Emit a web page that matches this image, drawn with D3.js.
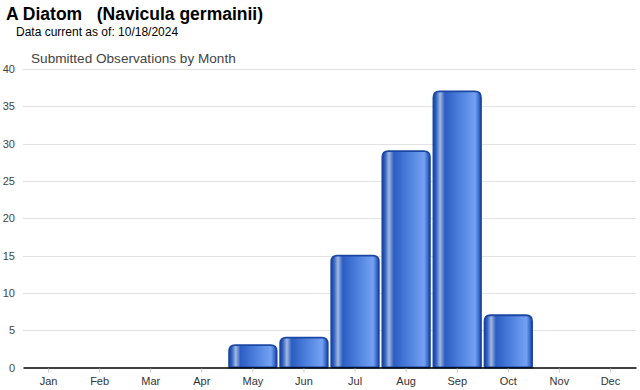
<!DOCTYPE html>
<html>
<head>
<meta charset="utf-8">
<script src="https://cdn.jsdelivr.net/npm/d3@7"></script>
<style>
  body { margin: 0; background: #fff; }
  svg { display: block; font-family: Arial, "Liberation Sans", sans-serif; }
</style>
</head>
<body>
<div id="chart"></div>
<script>
const months = ['Jan', 'Feb', 'Mar', 'Apr', 'May', 'Jun', 'Jul', 'Aug', 'Sep', 'Oct', 'Nov', 'Dec'];
const observations = [0, 0, 0, 0, 3, 4, 15, 29, 37, 7, 0, 0];
const yTicks = [0, 5, 10, 15, 20, 25, 30, 35, 40];

const width = 640, height = 390;
const margin = { top: 69, right: 4, bottom: 22, left: 23 };

const svg = d3.select('#chart')
  .append('svg')
  .attr('width', width)
  .attr('height', height);

// bar gradient
const defs = svg.append('defs');
const grad = defs.append('linearGradient')
  .attr('id', 'barGrad')
  .attr('x1', '0%').attr('x2', '100%')
  .attr('y1', '0%').attr('y2', '0%');
[
  [0, '#1a46a2'],
  [0.06, '#3464c4'],
  [0.14, '#a4b9df'],
  [0.24, '#2b5dc3'],
  [0.55, '#4d80dd'],
  [0.88, '#74a1f2'],
  [0.96, '#3767ca'],
  [1, '#1a46a2']
].forEach(s => grad.append('stop').attr('offset', s[0]).attr('stop-color', s[1]));

// titles
svg.append('text')
  .attr('x', 6).attr('y', 20)
  .attr('font-size', 17.5).attr('font-weight', 'bold')
  .attr('fill', '#000')
  .attr('xml:space', 'preserve')
  .text('A Diatom   (Navicula germainii)');

svg.append('text')
  .attr('x', 16).attr('y', 36)
  .attr('font-size', 12)
  .attr('fill', '#000')
  .text('Data current as of: 10/18/2024');

svg.append('text')
  .attr('x', 31).attr('y', 63)
  .attr('font-size', 13.6)
  .attr('fill', '#444')
  .text('Submitted Observations by Month');

const x = d3.scaleBand()
  .domain(months)
  .range([margin.left, width - margin.right])
  .paddingInner(0.04)
  .paddingOuter(0.02);

const y = d3.scaleLinear()
  .domain([0, 40])
  .range([height - margin.bottom - 0.5, margin.top]);

// grid lines
svg.append('g')
  .selectAll('line')
  .data(yTicks.slice(1))
  .enter()
  .append('line')
  .attr('x1', margin.left)
  .attr('x2', width - margin.right)
  .attr('y1', d => Math.round(y(d)) + 0.5)
  .attr('y2', d => Math.round(y(d)) + 0.5)
  .attr('stroke', '#e3e3e3');

// y labels
svg.append('g')
  .selectAll('text')
  .data(yTicks)
  .enter()
  .append('text')
  .attr('x', 15)
  .attr('y', d => y(d) + 4)
  .attr('text-anchor', 'end')
  .attr('font-size', 11)
  .attr('fill', '#444')
  .text(d => d);

// bars
svg.append('g')
  .selectAll('path')
  .data(observations.map((v, i) => ({ month: months[i], value: v })).filter(d => d.value > 0))
  .enter()
  .append('path')
  .attr('d', d => {
    const x0 = x(d.month) + 0.75, w = x.bandwidth() - 1.5;
    const y0 = y(d.value), y1 = y(0);
    const r = 6;
    return `M${x0},${y1} L${x0},${y0 + r} Q${x0},${y0} ${x0 + r},${y0} ` +
      `L${x0 + w - r},${y0} Q${x0 + w},${y0} ${x0 + w},${y0 + r} L${x0 + w},${y1} Z`;
  })
  .attr('fill', 'url(#barGrad)')
  .attr('stroke', '#1a47a3')
  .attr('stroke-width', 1.8);

// x axis
const xAxis = svg.append('g')
  .attr('transform', `translate(0, ${y(0)})`)
  .call(d3.axisBottom(x).tickSize(4).tickPadding(6).tickSizeOuter(0));
xAxis.select('.domain').attr('stroke', '#000').attr('stroke-width', 1.5);
xAxis.selectAll('.tick line').attr('stroke', '#ccc').attr('transform', 'translate(0,1)');
xAxis.selectAll('.tick text')
  .attr('font-size', 11)
  .attr('font-family', 'Arial, "Liberation Sans", sans-serif')
  .attr('fill', '#333');
</script>
</body>
</html>
